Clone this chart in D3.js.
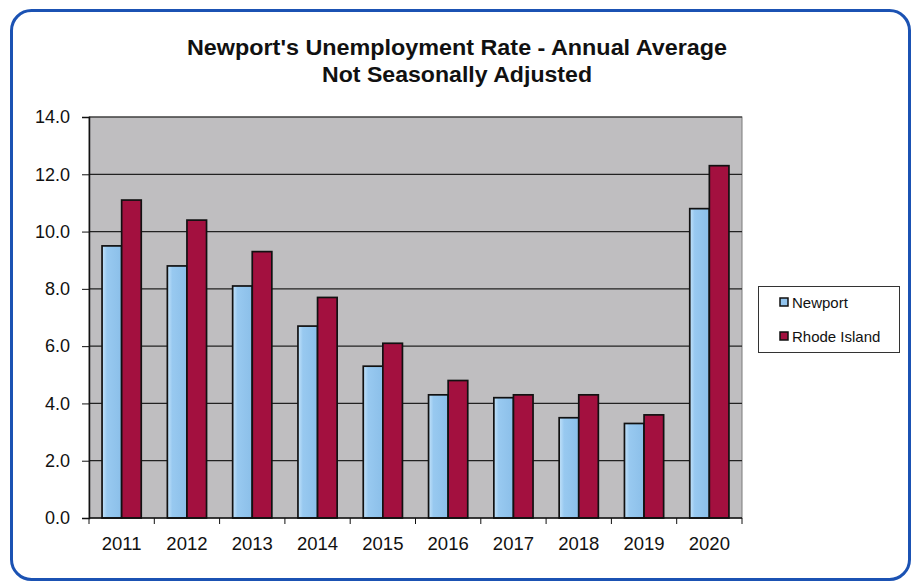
<!DOCTYPE html>
<html>
<head>
<meta charset="utf-8">
<script src="https://cdn.jsdelivr.net/npm/d3@7"></script>
<style>
  html, body { margin: 0; padding: 0; background: #ffffff; }
  svg { display: block; font-family: "Liberation Sans", Arial, sans-serif; }
</style>
</head>
<body>
<svg id="chart" width="916" height="583"></svg>
<script>
// Annual average unemployment rate (%), not seasonally adjusted
const years = ["2011", "2012", "2013", "2014", "2015", "2016", "2017", "2018", "2019", "2020"];
const newport = [9.5, 8.8, 8.1, 6.7, 5.3, 4.3, 4.2, 3.5, 3.3, 10.8];
const rhodeIsland = [11.1, 10.4, 9.3, 7.7, 6.1, 4.8, 4.3, 4.3, 3.6, 12.3];
const seriesNames = ["Newport", "Rhode Island"];
const seriesColors = ["#92c4ee", "#a3103f"];
const yTicks = [0, 2, 4, 6, 8, 10, 12, 14];
const titleLines = ["Newport's Unemployment Rate - Annual Average", "Not Seasonally Adjusted"];

const svg = d3.select("#chart");

// Soft highlight on the light-blue bars
const defs = svg.append("defs");
const grad = defs.append("linearGradient").attr("id", "blueBar")
  .attr("x1", "0%").attr("x2", "100%").attr("y1", "0%").attr("y2", "0%");
grad.append("stop").attr("offset", "0%").attr("stop-color", "#c4e3fa");
grad.append("stop").attr("offset", "25%").attr("stop-color", "#98c9f0");
grad.append("stop").attr("offset", "100%").attr("stop-color", "#8bbfe9");

// Rounded blue frame around the whole chart
svg.append("rect")
  .attr("x", 11.5).attr("y", 10.5)
  .attr("width", 898).attr("height", 569)
  .attr("rx", 20).attr("ry", 20)
  .attr("fill", "#ffffff")
  .attr("stroke", "#1b52b3")
  .attr("stroke-width", 3);

// Title
const titleWidths = [540, 270];
titleLines.forEach((t, i) => {
  svg.append("text")
    .attr("x", 457).attr("y", 55 + i * 27)
    .attr("text-anchor", "middle")
    .attr("font-weight", "bold")
    .attr("font-size", 22)
    .attr("fill", "#111")
    .attr("textLength", titleWidths[i])
    .attr("lengthAdjust", "spacingAndGlyphs")
    .text(t);
});

const plot = { left: 89, right: 742, top: 117, bottom: 518 };

const x0 = d3.scaleBand()
  .domain(years)
  .range([plot.left, plot.right])
  .paddingInner(0.4)
  .paddingOuter(0.2);

const x1 = d3.scaleBand()
  .domain(seriesNames)
  .range([0, x0.bandwidth()]);

const y = d3.scaleLinear()
  .domain([0, 14])
  .range([plot.bottom, plot.top]);

// Plot area background
svg.append("rect")
  .attr("x", plot.left).attr("y", plot.top)
  .attr("width", plot.right - plot.left)
  .attr("height", plot.bottom - plot.top)
  .attr("fill", "#bfbec0")
  .attr("stroke", "#7a7a7a")
  .attr("stroke-width", 1);

// Horizontal gridlines
svg.append("g")
  .selectAll("line")
  .data(yTicks.filter(d => d > 0))
  .join("line")
  .attr("x1", plot.left).attr("x2", plot.right)
  .attr("y1", d => y(d)).attr("y2", d => y(d))
  .attr("stroke", "#222")
  .attr("stroke-width", 1.2);

// Bars
const seriesData = [newport, rhodeIsland];
const groups = svg.append("g")
  .selectAll("g")
  .data(years)
  .join("g")
  .attr("transform", d => `translate(${x0(d)},0)`);

groups.selectAll("rect")
  .data((yr, i) => seriesNames.map((s, k) => ({ s, k, v: seriesData[k][i] })))
  .join("rect")
  .attr("x", d => x1(d.s))
  .attr("y", d => y(d.v))
  .attr("width", x1.bandwidth())
  .attr("height", d => y(0) - y(d.v))
  .attr("fill", d => d.k === 0 ? "url(#blueBar)" : seriesColors[d.k])
  .attr("stroke", "#111")
  .attr("stroke-width", 1.7);

// Y axis
const yAxis = svg.append("g")
  .attr("transform", `translate(${plot.left},0)`)
  .call(d3.axisLeft(y).tickValues(yTicks).tickFormat(d3.format(".1f")).tickSize(7).tickPadding(12));
yAxis.select(".domain").attr("stroke", "#111").attr("stroke-width", 1.5);
yAxis.selectAll(".tick line").attr("stroke", "#111");
yAxis.selectAll(".tick text")
  .attr("font-size", 18)
  .attr("fill", "#111")
  .attr("font-family", "Liberation Sans, Arial, sans-serif");

// X axis: tick marks on category boundaries, labels centred under each group
const xAxisG = svg.append("g").attr("transform", `translate(0,${plot.bottom})`);
xAxisG.append("line")
  .attr("x1", plot.left).attr("x2", plot.right)
  .attr("stroke", "#111").attr("stroke-width", 1.5);
const step = x0.step();
const boundaries = years.map((d, i) => plot.left + i * step).concat([plot.right]);
xAxisG.selectAll("line.tk")
  .data(boundaries)
  .join("line")
  .attr("class", "tk")
  .attr("x1", d => d).attr("x2", d => d)
  .attr("y1", 0).attr("y2", 6)
  .attr("stroke", "#111");
xAxisG.selectAll("text")
  .data(years)
  .join("text")
  .attr("x", d => x0(d) + x0.bandwidth() / 2)
  .attr("y", 32)
  .attr("text-anchor", "middle")
  .attr("font-size", 18.5)
  .attr("fill", "#111")
  .text(d => d);

// Legend
const legend = svg.append("g");
legend.append("rect")
  .attr("x", 758.5).attr("y", 286.5)
  .attr("width", 141).attr("height", 66)
  .attr("fill", "#ffffff")
  .attr("stroke", "#333")
  .attr("stroke-width", 1);
const items = legend.selectAll("g.item")
  .data(seriesNames)
  .join("g")
  .attr("class", "item")
  .attr("transform", (d, i) => `translate(780,${302 + i * 34})`);
items.append("rect")
  .attr("x", 0).attr("y", -4)
  .attr("width", 8).attr("height", 8)
  .attr("fill", (d, i) => seriesColors[i])
  .attr("stroke", "#111")
  .attr("stroke-width", 1.5);
items.append("text")
  .attr("x", 12).attr("y", 5.5)
  .attr("font-size", 15)
  .attr("fill", "#111")
  .text(d => d);
</script>
</body>
</html>
